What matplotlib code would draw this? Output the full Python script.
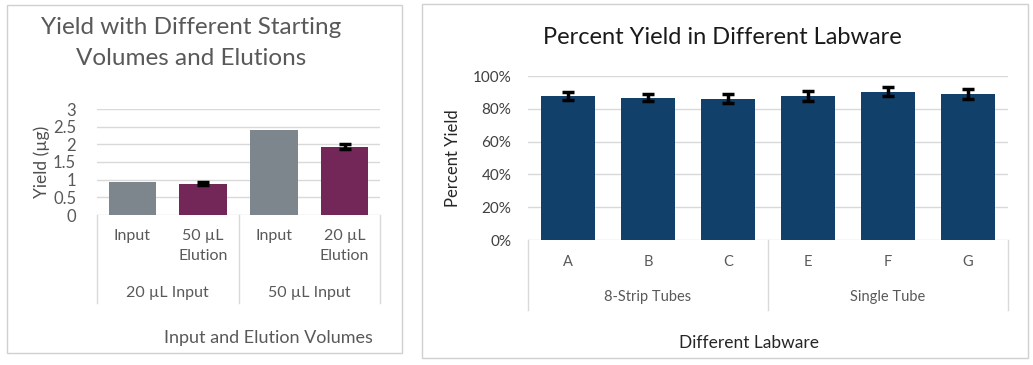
import matplotlib.pyplot as plt
import matplotlib.transforms as mtransforms
from matplotlib.patches import Rectangle
from matplotlib.ticker import PercentFormatter

# ---------------------------------------------------------------------------
# Data
# ---------------------------------------------------------------------------
left_labels = ['Input', '50 µL\nElution', 'Input', '20 µL\nElution']
left_groups = ['20 µL Input', '50 µL Input']
left_values = [0.94, 0.89, 2.41, 1.93]
left_err = [0.0, 0.03, 0.0, 0.075]

right_labels = ['A', 'B', 'C', 'E', 'F', 'G']
right_groups = ['8-Strip Tubes', 'Single Tube']
right_values = [0.878, 0.868, 0.862, 0.878, 0.904, 0.890]
right_err = [0.025, 0.022, 0.027, 0.030, 0.027, 0.030]

GREY_BAR = '#7d868d'
PURPLE = '#722758'
NAVY = '#11406a'
GRID = '#d9d9d9'
TXT = '#595959'

W, H = 1033, 365
plt.rcParams['font.family'] = ['Lato', 'DejaVu Sans']

fig = plt.figure(figsize=(W / 100, H / 100), dpi=100)


def px_axes(x0, y0, x1, y1):
    """Axes from pixel box (top-left origin)."""
    return fig.add_axes([x0 / W, (H - y1) / H, (x1 - x0) / W, (y1 - y0) / H])


def fig_text(x, y, s, **kw):
    fig.text(x / W, (H - y) / H, s, **kw)


def panel_border(x0, y0, x1, y1):
    fig.patches.append(Rectangle((x0 / W, (H - y1) / H), (x1 - x0) / W, (y1 - y0) / H,
                                 transform=fig.transFigure, fill=False,
                                 edgecolor='#d0d0d0', linewidth=1.0))


def category_box(ax, n, per_group, ax_top, ax_bot, box_bot, groups, group_y, lab_y, labels, fs):
    """Excel-style two-level category axis drawn below the axes."""
    h = ax_bot - ax_top
    frac = lambda py: (ax_bot - py) / h
    trans = mtransforms.blended_transform_factory(ax.transData, ax.transAxes)
    for i in range(0, n + 1, per_group):
        ax.plot([i - 0.5, i - 0.5], [0, frac(box_bot)], color=GRID, lw=1,
                transform=trans, clip_on=False)
    for i, lab in enumerate(labels):
        ax.text(i, frac(lab_y), lab, transform=trans, ha='center', va='top',
                fontsize=fs, color=TXT, linespacing=1.55)
    for g, name in enumerate(groups):
        xc = g * per_group + (per_group - 1) / 2
        ax.text(xc, frac(group_y), name, transform=trans, ha='center', va='center',
                fontsize=fs, color=TXT)


def style_axes(ax):
    for s in ax.spines.values():
        s.set_visible(False)
    ax.tick_params(axis='x', length=0, labelbottom=False)
    ax.tick_params(axis='y', length=0, colors=TXT, labelsize=10.5, pad=14)
    ax.yaxis.grid(True, color=GRID, lw=1)
    ax.set_axisbelow(True)


# ---------------------------------------------------------------------------
# Left panel
# ---------------------------------------------------------------------------
panel_border(7, 5, 402, 353)
ax1 = px_axes(97, 109, 380, 215)
colors1 = [GREY_BAR, PURPLE, GREY_BAR, PURPLE]
x1 = range(len(left_values))
ax1.bar(x1, left_values, width=0.67, color=colors1, zorder=2)
ax1.errorbar([1, 3], [left_values[1], left_values[3]], yerr=[left_err[1], left_err[3]],
             fmt='none', ecolor='black', elinewidth=2.5, capsize=4, capthick=2.5, zorder=3)
ax1.set_xlim(-0.5, 3.5)
ax1.set_ylim(0, 3)
ax1.set_yticks([0, 0.5, 1, 1.5, 2, 2.5, 3])
ax1.set_yticklabels(['0', '0.5', '1', '1.5', '2', '2.5', '3'])
style_axes(ax1)
ax1.tick_params(axis='y', pad=15, labelsize=12)
category_box(ax1, 4, 2, 109, 215, 303, left_groups, 293, 229, left_labels, 11.5)
ax1.set_ylabel('Yield (µg)', fontsize=12.5, color='#505050', labelpad=2)
fig_text(191, 43, 'Yield with Different Starting\nVolumes and Elutions', ha='center',
         va='center', fontsize=17.5, color=TXT, linespacing=1.62)
fig_text(268, 338, 'Input and Elution Volumes', ha='center', va='center',
         fontsize=13, color=TXT)

# ---------------------------------------------------------------------------
# Right panel
# ---------------------------------------------------------------------------
panel_border(422, 4, 1028, 358)
ax2 = px_axes(528, 76, 1008, 240)
x2 = range(len(right_values))
ax2.bar(x2, right_values, width=0.67, color=NAVY, zorder=2)
ax2.errorbar(x2, right_values, yerr=right_err, fmt='none', ecolor='black',
             elinewidth=2.5, capsize=4, capthick=2.5, zorder=3)
ax2.set_xlim(-0.5, 5.5)
ax2.set_ylim(0, 1)
ax2.set_yticks([0, 0.2, 0.4, 0.6, 0.8, 1.0])
ax2.yaxis.set_major_formatter(PercentFormatter(1.0, decimals=0))
style_axes(ax2)
ax2.tick_params(axis='y', pad=12, labelsize=11, colors='#404040')
category_box(ax2, 6, 3, 76, 240, 310, right_groups, 297, 255, right_labels, 10.5)
ax2.set_ylabel('Percent Yield', fontsize=12, color='#262626', labelpad=8)
fig_text(722, 38, 'Percent Yield in Different Labware', ha='center', va='center',
         fontsize=17, color='#1a1a1a')
fig_text(749, 343, 'Different Labware', ha='center', va='center',
         fontsize=12.5, color='#262626')

fig.savefig('out.png', dpi=100)
